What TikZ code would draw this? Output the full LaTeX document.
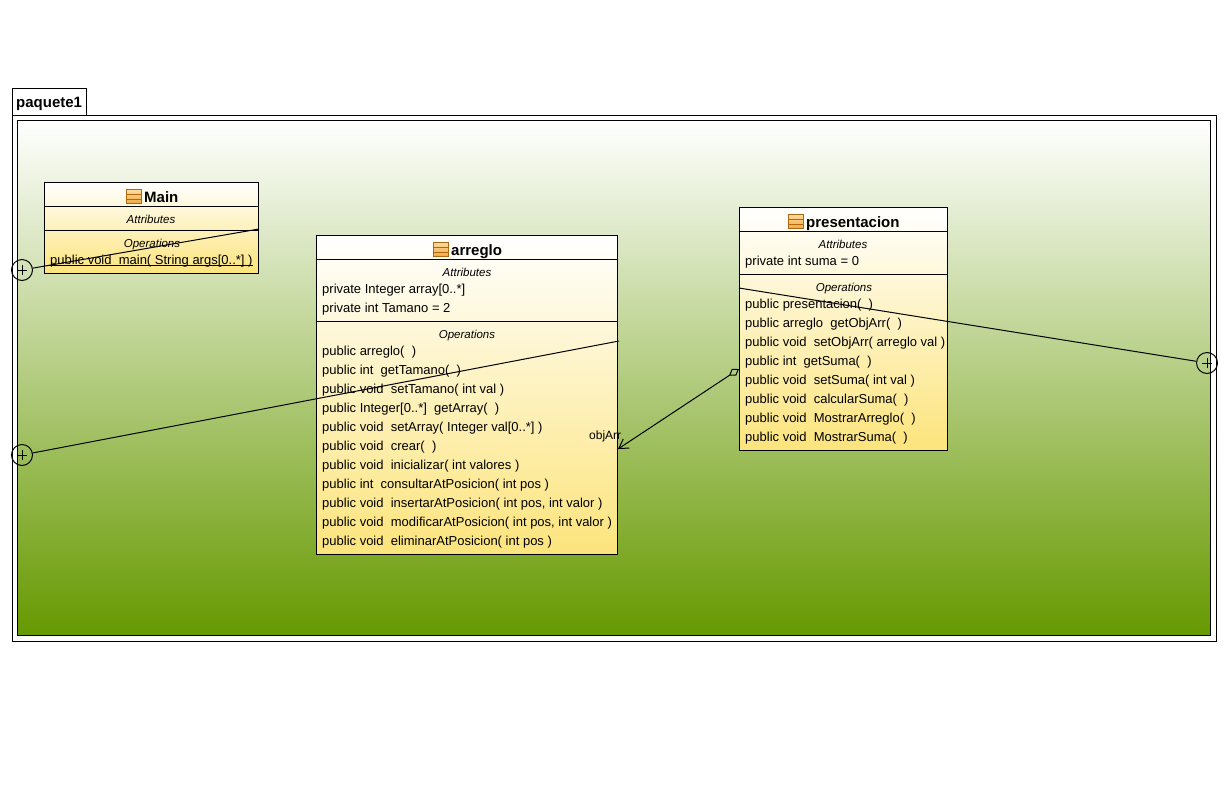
\documentclass[tikz,border=0pt]{standalone}
\usepackage{fontspec}
\setmainfont{Liberation Sans}
\usetikzlibrary{arrows.meta}
\definecolor{classyellow}{RGB}{252,228,124}
\definecolor{pkggreen}{RGB}{102,153,0}
\definecolor{iconline}{RGB}{176,104,16}
\definecolor{icontop}{RGB}{255,222,160}
\definecolor{iconbottom}{RGB}{240,170,70}
\tikzset{
  classbox/.style={draw=black,line width=1pt,top color=white,bottom color=classyellow,inner sep=0pt},
  classtitle/.style={anchor=base west,inner sep=0pt,font=\fontsize{15}{17}\selectfont\bfseries},
  sectiontitle/.style={anchor=base,inner sep=0pt,font=\fontsize{11.5}{13}\selectfont\itshape},
  membertext/.style={anchor=base west,inner sep=0pt,font=\fontsize{13}{15}\selectfont},
  containment/.style={draw=black,line width=1pt,circle,minimum size=21pt,inner sep=0pt,
    path picture={\draw[line width=1pt] (path picture bounding box.center) +(-5pt,0pt) -- +(5pt,0pt)
      (path picture bounding box.center) +(0pt,-5pt) -- +(0pt,5pt);}},
  classicon/.pic={
    \path[draw=iconline,line width=1pt,top color=icontop,bottom color=iconbottom] (0,0) rectangle (15,14);
    \draw[iconline,line width=1pt] (0,5) -- (15,5);
    \draw[iconline,line width=1pt] (0,10) -- (15,10);
  }
}
\begin{document}
\begin{tikzpicture}[x=1pt,y=-1pt]
  \useasboundingbox (0,0) rectangle (1229,785);

  \node (tab)     at (49,101.5)  [draw,line width=1pt,minimum width=74pt,minimum height=27pt,inner sep=0pt] {};
  \node (tabname) at (16,107)    [classtitle] {paquete1};
  \node (frame)   at (614,378)   [draw,fill=white,line width=1pt,minimum width=1204pt,minimum height=526pt,inner sep=0pt] {};
  \node (body)    at (614,378)   [draw,line width=1pt,top color=white,bottom color=pkggreen,minimum width=1193pt,minimum height=515pt,inner sep=0pt] {};

  \node (main) at (151,227.5) [classbox,minimum width=214pt,minimum height=91pt] {};
  \draw[line width=1pt] (main.west |- 0,206) -- (main.east |- 0,206);
  \draw[line width=1pt] (main.west |- 0,230) -- (main.east |- 0,230);
  \pic at (126,189) {classicon};
  \node (maintitle) at (144,202) [classtitle] {Main};
  \node (mainattr)  at (151,223) [sectiontitle] {Attributes};
  \node (mainops)   at (152,247) [sectiontitle] {Operations};
  \node (mainop1)   at (50,264)  [membertext] {public void\ \ main( String args[0..*] )};
  \draw[line width=1pt] ([yshift=-1pt]mainop1.base west) -- ([yshift=-1pt]mainop1.base east);

  \node (arreglo) at (466.5,394.5) [classbox,minimum width=301pt,minimum height=319pt] {};
  \draw[line width=1pt] (arreglo.west |- 0,259) -- (arreglo.east |- 0,259);
  \draw[line width=1pt] (arreglo.west |- 0,321) -- (arreglo.east |- 0,321);
  \pic at (433,242) {classicon};
  \node (arreglotitle) at (451,255) [classtitle] {arreglo};
  \node (arregloattr)  at (467,276) [sectiontitle] {Attributes};
  \node (arregloa1)    at (322,293) [membertext] {private Integer array[0..*]};
  \node (arregloa2)    at (322,312) [membertext] {private int Tamano = 2};
  \node (arregloops)   at (467,338) [sectiontitle] {Operations};
  \foreach \oper [count=\i] in {{public arreglo(\ \ )},
    {public int\ \ getTamano(\ \ )},
    {public void\ \ setTamano( int val )},
    {public Integer[0..*]\ \ getArray(\ \ )},
    {public void\ \ setArray( Integer val[0..*] )},
    {public void\ \ crear(\ \ )},
    {public void\ \ inicializar( int valores )},
    {public int\ \ consultarAtPosicion( int pos )},
    {public void\ \ insertarAtPosicion( int pos, int valor )},
    {public void\ \ modificarAtPosicion( int pos, int valor )},
    {public void\ \ eliminarAtPosicion( int pos )}}
    \node (arregloop\i) at (322,{355+(\i-1)*19}) [membertext] {\oper};

  \node (presentacion) at (843,328.5) [classbox,minimum width=208pt,minimum height=243pt] {};
  \draw[line width=1pt] (presentacion.west |- 0,231) -- (presentacion.east |- 0,231);
  \draw[line width=1pt] (presentacion.west |- 0,274) -- (presentacion.east |- 0,274);
  \pic at (788,214) {classicon};
  \node (presentaciontitle) at (806,227) [classtitle] {presentacion};
  \node (presentacionattr)  at (843,248) [sectiontitle] {Attributes};
  \node (presentaciona1)    at (745,265) [membertext] {private int suma = 0};
  \node (presentacionops)   at (844,291) [sectiontitle] {Operations};
  \foreach \oper [count=\i] in {{public presentacion(\ \ )},
    {public arreglo\ \ getObjArr(\ \ )},
    {public void\ \ setObjArr( arreglo val )},
    {public int\ \ getSuma(\ \ )},
    {public void\ \ setSuma( int val )},
    {public void\ \ calcularSuma(\ \ )},
    {public void\ \ MostrarArreglo(\ \ )},
    {public void\ \ MostrarSuma(\ \ )}}
    \node (presentacionop\i) at (745,{308+(\i-1)*19}) [membertext] {\oper};

  \node (pinmain)         at (22,270)   [containment] {};
  \node (pinarreglo)      at (22,455)   [containment] {};
  \node (pinpresentacion) at (1207,363) [containment] {};
  \coordinate (endmain)         at (259,229);
  \coordinate (endarreglo)      at (619,341);
  \coordinate (endpresentacion) at (739,288);
  \coordinate (assocarreglo)    at (618,449);
  \coordinate (assocpres)       at (739,369);

  \draw[line width=1pt] (pinmain) -- (endmain);
  \draw[line width=1pt] (pinarreglo) -- (endarreglo);
  \draw[line width=1pt] (pinpresentacion) -- (endpresentacion);
  \draw[line width=1pt,{Straight Barb[length=9pt,width=11pt]}-{Diamond[open,length=12pt,width=8pt]}] (assocarreglo) -- (assocpres);
  \node (objarr) at (589,439) [membertext,font=\fontsize{12}{14}\selectfont] {objArr};
\end{tikzpicture}
\end{document}
